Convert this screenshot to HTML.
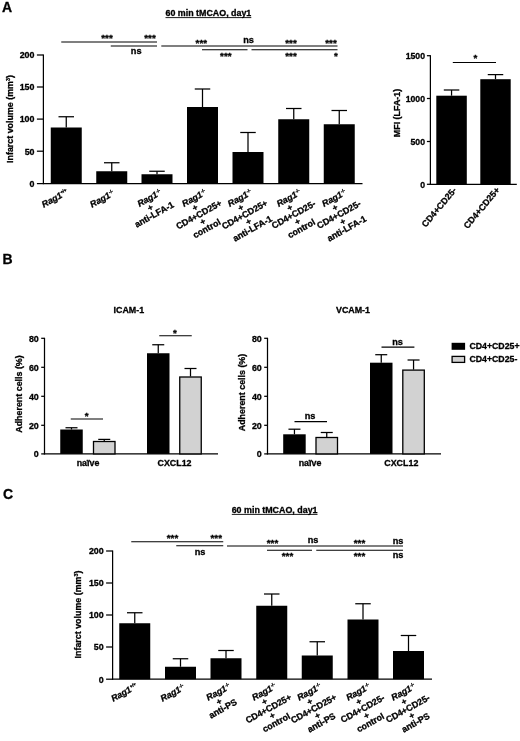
<!DOCTYPE html>
<html><head><meta charset="utf-8"><title>Figure</title>
<style>
html,body{margin:0;padding:0;background:#fff;}
svg{display:block;filter:blur(0.35px);}
svg text{font-family:"Liberation Sans",Arial,sans-serif;font-weight:bold;fill:#000;stroke:#000;stroke-width:0.3px;}
</style></head>
<body>
<svg width="520" height="741" viewBox="0 0 520 741">
<rect width="520" height="741" fill="#fff"/>
<text x="2" y="11.8" text-anchor="start" font-size="14" >A</text>
<text x="2.6" y="264" text-anchor="start" font-size="14" >B</text>
<text x="3" y="499.4" text-anchor="start" font-size="14" >C</text>
<text x="208.4" y="16.2" text-anchor="middle" font-size="8.9" >60 min tMCAO, day1</text>
<line x1="165.5" y1="17.6" x2="251.3" y2="17.6" stroke="#000" stroke-width="0.9"/>
<line x1="43.4" y1="54.5" x2="43.4" y2="184.1" stroke="#000" stroke-width="1.25"/>
<line x1="36.9" y1="55" x2="43.4" y2="55" stroke="#000" stroke-width="1.25"/>
<text x="34.5" y="58.3" text-anchor="end" font-size="8.9" >200</text>
<line x1="36.9" y1="87" x2="43.4" y2="87" stroke="#000" stroke-width="1.25"/>
<text x="34.5" y="90.3" text-anchor="end" font-size="8.9" >150</text>
<line x1="36.9" y1="119.1" x2="43.4" y2="119.1" stroke="#000" stroke-width="1.25"/>
<text x="34.5" y="122.39999999999999" text-anchor="end" font-size="8.9" >100</text>
<line x1="36.9" y1="151.2" x2="43.4" y2="151.2" stroke="#000" stroke-width="1.25"/>
<text x="34.5" y="154.5" text-anchor="end" font-size="8.9" >50</text>
<line x1="36.9" y1="183.6" x2="43.4" y2="183.6" stroke="#000" stroke-width="1.25"/>
<text x="34.5" y="186.9" text-anchor="end" font-size="8.9" >0</text>
<line x1="42.8" y1="183.6" x2="362.5" y2="183.6" stroke="#000" stroke-width="1.25"/>
<rect x="50.75" y="127.5" width="31.0" height="56.099999999999994" fill="#000"/>
<line x1="66.25" y1="127.5" x2="66.25" y2="116.75" stroke="#000" stroke-width="1.25"/>
<line x1="58.5" y1="116.75" x2="74.0" y2="116.75" stroke="#000" stroke-width="1.25"/>
<rect x="96.25" y="171.25" width="31.0" height="12.349999999999994" fill="#000"/>
<line x1="111.75" y1="171.25" x2="111.75" y2="162.75" stroke="#000" stroke-width="1.25"/>
<line x1="104.0" y1="162.75" x2="119.5" y2="162.75" stroke="#000" stroke-width="1.25"/>
<rect x="141.5" y="174.25" width="31.0" height="9.349999999999994" fill="#000"/>
<line x1="157.0" y1="174.25" x2="157.0" y2="171.25" stroke="#000" stroke-width="1.25"/>
<line x1="149.25" y1="171.25" x2="164.75" y2="171.25" stroke="#000" stroke-width="1.25"/>
<rect x="187" y="107" width="31" height="76.6" fill="#000"/>
<line x1="202.5" y1="107" x2="202.5" y2="89" stroke="#000" stroke-width="1.25"/>
<line x1="194.75" y1="89" x2="210.25" y2="89" stroke="#000" stroke-width="1.25"/>
<rect x="232.5" y="152" width="31.0" height="31.599999999999994" fill="#000"/>
<line x1="248.0" y1="152" x2="248.0" y2="132.5" stroke="#000" stroke-width="1.25"/>
<line x1="240.25" y1="132.5" x2="255.75" y2="132.5" stroke="#000" stroke-width="1.25"/>
<rect x="278.25" y="119.25" width="31.0" height="64.35" fill="#000"/>
<line x1="293.75" y1="119.25" x2="293.75" y2="108.5" stroke="#000" stroke-width="1.25"/>
<line x1="286.0" y1="108.5" x2="301.5" y2="108.5" stroke="#000" stroke-width="1.25"/>
<rect x="323.75" y="124.25" width="31.0" height="59.349999999999994" fill="#000"/>
<line x1="339.25" y1="124.25" x2="339.25" y2="110.5" stroke="#000" stroke-width="1.25"/>
<line x1="331.5" y1="110.5" x2="347.0" y2="110.5" stroke="#000" stroke-width="1.25"/>
<line x1="61.25" y1="42" x2="157" y2="42" stroke="#000" stroke-width="1.05"/>
<line x1="110.75" y1="46.0" x2="157" y2="46.0" stroke="#000" stroke-width="1.05"/>
<line x1="161.3" y1="45.9" x2="337.5" y2="45.9" stroke="#000" stroke-width="1.05"/>
<line x1="202" y1="49.8" x2="247.5" y2="49.8" stroke="#000" stroke-width="1.05"/>
<line x1="251.5" y1="49.8" x2="337.5" y2="49.8" stroke="#000" stroke-width="1.05"/>
<text x="107" y="41" text-anchor="middle" font-size="9.8" >***</text>
<text x="150" y="41" text-anchor="middle" font-size="9.8" >***</text>
<text x="136.2" y="54.35" text-anchor="middle" font-size="9.2" >ns</text>
<text x="201.3" y="46" text-anchor="middle" font-size="9.8" >***</text>
<text x="248.5" y="43.2" text-anchor="middle" font-size="9.2" >ns</text>
<text x="291" y="46" text-anchor="middle" font-size="9.8" >***</text>
<text x="331" y="46" text-anchor="middle" font-size="9.8" >***</text>
<text x="225.8" y="59" text-anchor="middle" font-size="9.8" >***</text>
<text x="291" y="59" text-anchor="middle" font-size="9.8" >***</text>
<text x="336" y="59" text-anchor="middle" font-size="9.8" >*</text>
<text transform="translate(10,119) rotate(-90)" text-anchor="middle" font-size="8.9" y="3.2">Infarct volume (mm<tspan font-size='5.4' dy='-3'>3</tspan><tspan dy='3'>)</tspan></text>
<g transform="translate(51.75,199.7) rotate(-29)" font-size="8.9" text-anchor="middle">
<text x="0" y="3.10" font-style="italic">Rag1</text>
<text x="11.08" y="-0.30" font-size="4.5" text-anchor="start" stroke="none">+/+</text>
</g>
<g transform="translate(100.05,199.7) rotate(-29)" font-size="8.9" text-anchor="middle">
<text x="0" y="3.10" font-style="italic">Rag1</text>
<text x="11.08" y="-0.30" font-size="4.5" text-anchor="start" stroke="none">-/-</text>
</g>
<g transform="translate(146.0,199.7) rotate(-29)" font-size="8.9" text-anchor="middle">
<text x="1.6" y="3.10" font-style="italic">Rag1</text>
<text x="12.68" y="-0.30" font-size="4.5" text-anchor="start" stroke="none">-/-</text>
<text x="0" y="12.00">+</text>
<text x="0" y="20.00">anti-LFA-1</text>
</g>
<g transform="translate(190.7,199.7) rotate(-29)" font-size="8.9" text-anchor="middle">
<text x="1.6" y="3.10" font-style="italic">Rag1</text>
<text x="12.68" y="-0.30" font-size="4.5" text-anchor="start" stroke="none">-/-</text>
<text x="0" y="12.00">+</text>
<text x="0" y="20.00">CD4+CD25+</text>
<text x="0" y="28.00">+</text>
<text x="0" y="36.00">control</text>
</g>
<g transform="translate(236.4,199.7) rotate(-29)" font-size="8.9" text-anchor="middle">
<text x="1.6" y="3.10" font-style="italic">Rag1</text>
<text x="12.68" y="-0.30" font-size="4.5" text-anchor="start" stroke="none">-/-</text>
<text x="0" y="12.00">+</text>
<text x="0" y="20.00">CD4+CD25+</text>
<text x="0" y="28.00">+</text>
<text x="0" y="36.00">anti-LFA-1</text>
</g>
<g transform="translate(285.35,199.7) rotate(-29)" font-size="8.9" text-anchor="middle">
<text x="1.6" y="3.10" font-style="italic">Rag1</text>
<text x="12.68" y="-0.30" font-size="4.5" text-anchor="start" stroke="none">-/-</text>
<text x="0" y="12.00">+</text>
<text x="0" y="20.00">CD4+CD25-</text>
<text x="0" y="28.00">+</text>
<text x="0" y="36.00">control</text>
</g>
<g transform="translate(330.65,199.7) rotate(-29)" font-size="8.9" text-anchor="middle">
<text x="1.6" y="3.10" font-style="italic">Rag1</text>
<text x="12.68" y="-0.30" font-size="4.5" text-anchor="start" stroke="none">-/-</text>
<text x="0" y="12.00">+</text>
<text x="0" y="20.00">CD4+CD25-</text>
<text x="0" y="28.00">+</text>
<text x="0" y="36.00">anti-LFA-1</text>
</g>
<line x1="430.4" y1="55.2" x2="430.4" y2="184.8" stroke="#000" stroke-width="1.25"/>
<line x1="426.9" y1="55.7" x2="430.4" y2="55.7" stroke="#000" stroke-width="1.25"/>
<text x="425.0" y="59.0" text-anchor="end" font-size="8.7" >1500</text>
<line x1="426.9" y1="98.5" x2="430.4" y2="98.5" stroke="#000" stroke-width="1.25"/>
<text x="425.0" y="101.8" text-anchor="end" font-size="8.7" >1000</text>
<line x1="426.9" y1="141.5" x2="430.4" y2="141.5" stroke="#000" stroke-width="1.25"/>
<text x="425.0" y="144.8" text-anchor="end" font-size="8.7" >500</text>
<line x1="426.9" y1="184.3" x2="430.4" y2="184.3" stroke="#000" stroke-width="1.25"/>
<text x="425.0" y="187.60000000000002" text-anchor="end" font-size="8.7" >0</text>
<line x1="429.8" y1="184.3" x2="516.8" y2="184.3" stroke="#000" stroke-width="1.25"/>
<rect x="436.3" y="95.7" width="30.5" height="88.60000000000001" fill="#000"/>
<line x1="451.55" y1="95.7" x2="451.55" y2="90" stroke="#000" stroke-width="1.25"/>
<line x1="443.8" y1="90" x2="459.3" y2="90" stroke="#000" stroke-width="1.25"/>
<rect x="480.3" y="79.2" width="30.399999999999977" height="105.10000000000001" fill="#000"/>
<line x1="495.5" y1="79.2" x2="495.5" y2="74.6" stroke="#000" stroke-width="1.25"/>
<line x1="487.75" y1="74.6" x2="503.25" y2="74.6" stroke="#000" stroke-width="1.25"/>
<line x1="452.8" y1="62.4" x2="496" y2="62.4" stroke="#000" stroke-width="1.05"/>
<text x="475.5" y="61" text-anchor="middle" font-size="9.8" >*</text>
<text transform="translate(397,113) rotate(-90)" text-anchor="middle" font-size="8.9" y="3.2">MFI (LFA-1)</text>
<g transform="translate(457,190.5) rotate(-50)" font-size="8.9" text-anchor="end">
<text x="0" y="0.00">CD4+CD25-</text>
</g>
<g transform="translate(500.3,190.3) rotate(-50)" font-size="8.9" text-anchor="end">
<text x="0" y="0.00">CD4+CD25+</text>
</g>
<text x="128.8" y="313.2" text-anchor="middle" font-size="8.9" >ICAM-1</text>
<line x1="44.5" y1="337.8" x2="44.5" y2="454.4" stroke="#000" stroke-width="1.25"/>
<line x1="41.2" y1="338.3" x2="44.5" y2="338.3" stroke="#000" stroke-width="1.25"/>
<text x="38.800000000000004" y="341.6" text-anchor="end" font-size="8.9" >80</text>
<line x1="41.2" y1="367.3" x2="44.5" y2="367.3" stroke="#000" stroke-width="1.25"/>
<text x="38.800000000000004" y="370.6" text-anchor="end" font-size="8.9" >60</text>
<line x1="41.2" y1="396.3" x2="44.5" y2="396.3" stroke="#000" stroke-width="1.25"/>
<text x="38.800000000000004" y="399.6" text-anchor="end" font-size="8.9" >40</text>
<line x1="41.2" y1="425.3" x2="44.5" y2="425.3" stroke="#000" stroke-width="1.25"/>
<text x="38.800000000000004" y="428.6" text-anchor="end" font-size="8.9" >20</text>
<line x1="41.2" y1="453.9" x2="44.5" y2="453.9" stroke="#000" stroke-width="1.25"/>
<text x="38.800000000000004" y="457.2" text-anchor="end" font-size="8.9" >0</text>
<line x1="43.9" y1="453.9" x2="218" y2="453.9" stroke="#000" stroke-width="1.25"/>
<rect x="60.25" y="429.5" width="22.5" height="24.399999999999977" fill="#000"/>
<line x1="71.5" y1="429.5" x2="71.5" y2="427.75" stroke="#000" stroke-width="1.25"/>
<line x1="65.5" y1="427.75" x2="77.5" y2="427.75" stroke="#000" stroke-width="1.25"/>
<rect x="93.5" y="441.5" width="21.5" height="12.399999999999977" fill="#d2d2d2" stroke="#000" stroke-width="1.3"/>
<line x1="104.25" y1="441" x2="104.25" y2="439.4" stroke="#000" stroke-width="1.25"/>
<line x1="98.25" y1="439.4" x2="110.25" y2="439.4" stroke="#000" stroke-width="1.25"/>
<rect x="147" y="353.25" width="22.5" height="100.64999999999998" fill="#000"/>
<line x1="158.25" y1="353.25" x2="158.25" y2="344.75" stroke="#000" stroke-width="1.25"/>
<line x1="152.25" y1="344.75" x2="164.25" y2="344.75" stroke="#000" stroke-width="1.25"/>
<rect x="179.75" y="377.0" width="21.5" height="76.89999999999998" fill="#d2d2d2" stroke="#000" stroke-width="1.3"/>
<line x1="190.5" y1="376.5" x2="190.5" y2="368.5" stroke="#000" stroke-width="1.25"/>
<line x1="184.5" y1="368.5" x2="196.5" y2="368.5" stroke="#000" stroke-width="1.25"/>
<line x1="70.75" y1="419" x2="103" y2="419" stroke="#000" stroke-width="1.05"/>
<text x="86.75" y="419" text-anchor="middle" font-size="9.8" >*</text>
<line x1="159.25" y1="335.75" x2="191.75" y2="335.75" stroke="#000" stroke-width="1.05"/>
<text x="175" y="336" text-anchor="middle" font-size="9.8" >*</text>
<text x="88" y="466.2" text-anchor="middle" font-size="8.9" >naïve</text>
<text x="174.5" y="466.2" text-anchor="middle" font-size="8.9" >CXCL12</text>
<text transform="translate(18.75,394) rotate(-90)" text-anchor="middle" font-size="8.9" y="3.2">Adherent cells (%)</text>
<text x="353" y="313.2" text-anchor="middle" font-size="8.9" >VCAM-1</text>
<line x1="267.5" y1="337.8" x2="267.5" y2="454.4" stroke="#000" stroke-width="1.25"/>
<line x1="264.2" y1="338.3" x2="267.5" y2="338.3" stroke="#000" stroke-width="1.25"/>
<text x="261.8" y="341.6" text-anchor="end" font-size="8.9" >80</text>
<line x1="264.2" y1="367.3" x2="267.5" y2="367.3" stroke="#000" stroke-width="1.25"/>
<text x="261.8" y="370.6" text-anchor="end" font-size="8.9" >60</text>
<line x1="264.2" y1="396.3" x2="267.5" y2="396.3" stroke="#000" stroke-width="1.25"/>
<text x="261.8" y="399.6" text-anchor="end" font-size="8.9" >40</text>
<line x1="264.2" y1="425.3" x2="267.5" y2="425.3" stroke="#000" stroke-width="1.25"/>
<text x="261.8" y="428.6" text-anchor="end" font-size="8.9" >20</text>
<line x1="264.2" y1="453.9" x2="267.5" y2="453.9" stroke="#000" stroke-width="1.25"/>
<text x="261.8" y="457.2" text-anchor="end" font-size="8.9" >0</text>
<line x1="266.9" y1="453.9" x2="441" y2="453.9" stroke="#000" stroke-width="1.25"/>
<rect x="283.2" y="434.3" width="22.5" height="19.599999999999966" fill="#000"/>
<line x1="294.45" y1="434.3" x2="294.45" y2="429.2" stroke="#000" stroke-width="1.25"/>
<line x1="288.45" y1="429.2" x2="300.45" y2="429.2" stroke="#000" stroke-width="1.25"/>
<rect x="316.0" y="437.5" width="21.5" height="16.399999999999977" fill="#d2d2d2" stroke="#000" stroke-width="1.3"/>
<line x1="326.75" y1="437" x2="326.75" y2="432.5" stroke="#000" stroke-width="1.25"/>
<line x1="320.75" y1="432.5" x2="332.75" y2="432.5" stroke="#000" stroke-width="1.25"/>
<rect x="370" y="362.7" width="22.5" height="91.19999999999999" fill="#000"/>
<line x1="381.25" y1="362.7" x2="381.25" y2="354.7" stroke="#000" stroke-width="1.25"/>
<line x1="375.25" y1="354.7" x2="387.25" y2="354.7" stroke="#000" stroke-width="1.25"/>
<rect x="402.8" y="370.1" width="21.5" height="83.79999999999995" fill="#d2d2d2" stroke="#000" stroke-width="1.3"/>
<line x1="413.55" y1="369.6" x2="413.55" y2="360" stroke="#000" stroke-width="1.25"/>
<line x1="407.55" y1="360" x2="419.55" y2="360" stroke="#000" stroke-width="1.25"/>
<line x1="294.5" y1="421.6" x2="327" y2="421.6" stroke="#000" stroke-width="1.05"/>
<text x="310" y="418.90000000000003" text-anchor="middle" font-size="9.2" >ns</text>
<line x1="381.5" y1="347.1" x2="414.4" y2="347.1" stroke="#000" stroke-width="1.05"/>
<text x="397.5" y="344.90000000000003" text-anchor="middle" font-size="9.2" >ns</text>
<text x="310" y="466.2" text-anchor="middle" font-size="8.9" >naïve</text>
<text x="401.3" y="466.2" text-anchor="middle" font-size="8.9" >CXCL12</text>
<text transform="translate(241.75,392.5) rotate(-90)" text-anchor="middle" font-size="8.9" y="3.2">Adherent cells (%)</text>
<rect x="451.6" y="342.8" width="13.5" height="7" fill="#000"/>
<rect x="452.1" y="356.4" width="12.5" height="6" fill="#d2d2d2" stroke="#000" stroke-width="1.3"/>
<text x="469.4" y="349.1" text-anchor="start" font-size="8.75" >CD4+CD25+</text>
<text x="469.4" y="362.2" text-anchor="start" font-size="8.75" >CD4+CD25-</text>
<text x="274.6" y="513" text-anchor="middle" font-size="8.9" >60 min tMCAO, day1</text>
<line x1="231.8" y1="514.4" x2="317.5" y2="514.4" stroke="#000" stroke-width="0.9"/>
<line x1="112.6" y1="550.5" x2="112.6" y2="679.7" stroke="#000" stroke-width="1.25"/>
<line x1="106.1" y1="551" x2="112.6" y2="551" stroke="#000" stroke-width="1.25"/>
<text x="103.69999999999999" y="554.3" text-anchor="end" font-size="8.9" >200</text>
<line x1="106.1" y1="583" x2="112.6" y2="583" stroke="#000" stroke-width="1.25"/>
<text x="103.69999999999999" y="586.3" text-anchor="end" font-size="8.9" >150</text>
<line x1="106.1" y1="615" x2="112.6" y2="615" stroke="#000" stroke-width="1.25"/>
<text x="103.69999999999999" y="618.3" text-anchor="end" font-size="8.9" >100</text>
<line x1="106.1" y1="647" x2="112.6" y2="647" stroke="#000" stroke-width="1.25"/>
<text x="103.69999999999999" y="650.3" text-anchor="end" font-size="8.9" >50</text>
<line x1="106.1" y1="679.2" x2="112.6" y2="679.2" stroke="#000" stroke-width="1.25"/>
<text x="103.69999999999999" y="682.5" text-anchor="end" font-size="8.9" >0</text>
<line x1="112" y1="679.2" x2="432" y2="679.2" stroke="#000" stroke-width="1.25"/>
<rect x="119.25" y="623.25" width="31.0" height="55.950000000000045" fill="#000"/>
<line x1="134.75" y1="623.25" x2="134.75" y2="612.75" stroke="#000" stroke-width="1.25"/>
<line x1="127.0" y1="612.75" x2="142.5" y2="612.75" stroke="#000" stroke-width="1.25"/>
<rect x="165" y="666.75" width="31" height="12.450000000000045" fill="#000"/>
<line x1="180.5" y1="666.75" x2="180.5" y2="658.75" stroke="#000" stroke-width="1.25"/>
<line x1="172.75" y1="658.75" x2="188.25" y2="658.75" stroke="#000" stroke-width="1.25"/>
<rect x="210.5" y="658.25" width="31.0" height="20.950000000000045" fill="#000"/>
<line x1="226.0" y1="658.25" x2="226.0" y2="650.5" stroke="#000" stroke-width="1.25"/>
<line x1="218.25" y1="650.5" x2="233.75" y2="650.5" stroke="#000" stroke-width="1.25"/>
<rect x="256.25" y="605.75" width="31.0" height="73.45000000000005" fill="#000"/>
<line x1="271.75" y1="605.75" x2="271.75" y2="594" stroke="#000" stroke-width="1.25"/>
<line x1="264.0" y1="594" x2="279.5" y2="594" stroke="#000" stroke-width="1.25"/>
<rect x="301.75" y="655.5" width="31.0" height="23.700000000000045" fill="#000"/>
<line x1="317.25" y1="655.5" x2="317.25" y2="641.75" stroke="#000" stroke-width="1.25"/>
<line x1="309.5" y1="641.75" x2="325.0" y2="641.75" stroke="#000" stroke-width="1.25"/>
<rect x="347.5" y="619.5" width="31.0" height="59.700000000000045" fill="#000"/>
<line x1="363.0" y1="619.5" x2="363.0" y2="603.75" stroke="#000" stroke-width="1.25"/>
<line x1="355.25" y1="603.75" x2="370.75" y2="603.75" stroke="#000" stroke-width="1.25"/>
<rect x="393" y="651" width="31" height="28.200000000000045" fill="#000"/>
<line x1="408.5" y1="651" x2="408.5" y2="635.5" stroke="#000" stroke-width="1.25"/>
<line x1="400.75" y1="635.5" x2="416.25" y2="635.5" stroke="#000" stroke-width="1.25"/>
<line x1="131.25" y1="541.75" x2="223.25" y2="541.75" stroke="#000" stroke-width="1.05"/>
<line x1="176.25" y1="545.75" x2="223.25" y2="545.75" stroke="#000" stroke-width="1.05"/>
<line x1="227" y1="546" x2="403" y2="546" stroke="#000" stroke-width="1.05"/>
<line x1="267" y1="550.25" x2="312" y2="550.25" stroke="#000" stroke-width="1.05"/>
<line x1="316.25" y1="550.25" x2="403" y2="550.25" stroke="#000" stroke-width="1.05"/>
<text x="172.5" y="541" text-anchor="middle" font-size="9.8" >***</text>
<text x="216.25" y="541" text-anchor="middle" font-size="9.8" >***</text>
<text x="200" y="554.6" text-anchor="middle" font-size="9.2" >ns</text>
<text x="272.5" y="546" text-anchor="middle" font-size="9.8" >***</text>
<text x="313" y="543.4" text-anchor="middle" font-size="9.2" >ns</text>
<text x="359.5" y="546" text-anchor="middle" font-size="9.8" >***</text>
<text x="398" y="543.6" text-anchor="middle" font-size="9.2" >ns</text>
<text x="287.5" y="559" text-anchor="middle" font-size="9.8" >***</text>
<text x="359.5" y="559" text-anchor="middle" font-size="9.8" >***</text>
<text x="398" y="557.6" text-anchor="middle" font-size="9.2" >ns</text>
<text transform="translate(78,614.5) rotate(-90)" text-anchor="middle" font-size="8.9" y="3.2">Infarct volume (mm<tspan font-size='5.4' dy='-3'>3</tspan><tspan dy='3'>)</tspan></text>
<g transform="translate(121.15,693.8000000000001) rotate(-29)" font-size="8.9" text-anchor="middle">
<text x="0" y="3.10" font-style="italic">Rag1</text>
<text x="11.08" y="-0.30" font-size="4.5" text-anchor="start" stroke="none">+/+</text>
</g>
<g transform="translate(170.5,693.8000000000001) rotate(-29)" font-size="8.9" text-anchor="middle">
<text x="0" y="3.10" font-style="italic">Rag1</text>
<text x="11.08" y="-0.30" font-size="4.5" text-anchor="start" stroke="none">-/-</text>
</g>
<g transform="translate(214.6,693.8000000000001) rotate(-29)" font-size="8.9" text-anchor="middle">
<text x="2.0" y="3.10" font-style="italic">Rag1</text>
<text x="13.08" y="-0.30" font-size="4.5" text-anchor="start" stroke="none">-/-</text>
<text x="0" y="12.00">+</text>
<text x="0" y="20.00">anti-PS</text>
</g>
<g transform="translate(260.25,693.8000000000001) rotate(-29)" font-size="8.9" text-anchor="middle">
<text x="2.0" y="3.10" font-style="italic">Rag1</text>
<text x="13.08" y="-0.30" font-size="4.5" text-anchor="start" stroke="none">-/-</text>
<text x="0" y="12.00">+</text>
<text x="0" y="20.00">CD4+CD25+</text>
<text x="0" y="28.00">+</text>
<text x="0" y="36.00">control</text>
</g>
<g transform="translate(305.45,693.8000000000001) rotate(-29)" font-size="8.9" text-anchor="middle">
<text x="2.0" y="3.10" font-style="italic">Rag1</text>
<text x="13.08" y="-0.30" font-size="4.5" text-anchor="start" stroke="none">-/-</text>
<text x="0" y="12.00">+</text>
<text x="0" y="20.00">CD4+CD25+</text>
<text x="0" y="28.00">+</text>
<text x="0" y="36.00">anti-PS</text>
</g>
<g transform="translate(354.4,693.8000000000001) rotate(-29)" font-size="8.9" text-anchor="middle">
<text x="2.0" y="3.10" font-style="italic">Rag1</text>
<text x="13.08" y="-0.30" font-size="4.5" text-anchor="start" stroke="none">-/-</text>
<text x="0" y="12.00">+</text>
<text x="0" y="20.00">CD4+CD25-</text>
<text x="0" y="28.00">+</text>
<text x="0" y="36.00">control</text>
</g>
<g transform="translate(399.6,693.8000000000001) rotate(-29)" font-size="8.9" text-anchor="middle">
<text x="2.0" y="3.10" font-style="italic">Rag1</text>
<text x="13.08" y="-0.30" font-size="4.5" text-anchor="start" stroke="none">-/-</text>
<text x="0" y="12.00">+</text>
<text x="0" y="20.00">CD4+CD25-</text>
<text x="0" y="28.00">+</text>
<text x="0" y="36.00">anti-PS</text>
</g>
</svg>
</body></html>
